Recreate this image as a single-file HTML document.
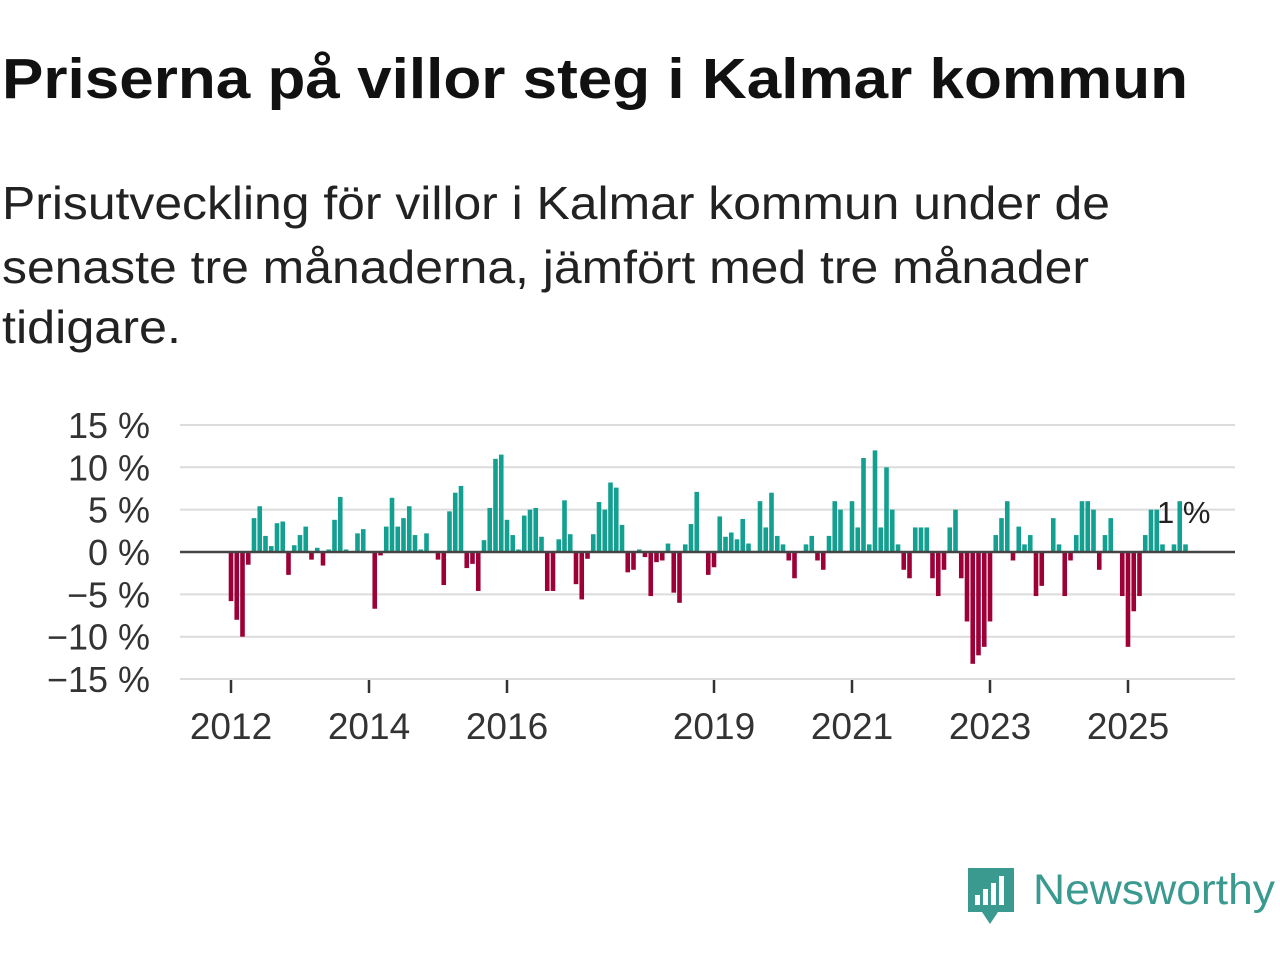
<!DOCTYPE html>
<html><head><meta charset="utf-8"><style>
html,body{margin:0;padding:0;background:#fff;}
svg{display:block;font-family:"Liberation Sans",sans-serif;}
</style></head><body>
<svg id="chart" width="1280" height="960" viewBox="0 0 1280 960">
<text x="2" y="98" font-size="57" font-weight="bold" fill="#111" textLength="1186" lengthAdjust="spacingAndGlyphs">Priserna på villor steg i Kalmar kommun</text>
<g font-size="46" fill="#222">
<text x="2" y="219" textLength="1108" lengthAdjust="spacingAndGlyphs">Prisutveckling för villor i Kalmar kommun under de</text>
<text x="2" y="283" textLength="1087" lengthAdjust="spacingAndGlyphs">senaste tre månaderna, jämfört med tre månader</text>
<text x="2" y="343" textLength="179" lengthAdjust="spacingAndGlyphs">tidigare.</text>
</g>
<g id="grid"></g>
<g id="bars"></g>
<g id="axes"></g>
<text x="1157" y="523" font-size="31" fill="#222">1 %</text>
<g>
<path d="M968 868 H1014 V912 H998 L990 924 L982 912 H968 Z" fill="#3a9a8f"/>
<rect x="975" y="895" width="5" height="10" fill="#fff"/>
<rect x="983" y="889" width="5" height="16" fill="#fff"/>
<rect x="991" y="883" width="5" height="22" fill="#fff"/>
<rect x="999" y="876" width="5" height="29" fill="#fff"/>
<text x="1033" y="904" font-size="43" fill="#3a9a8f" textLength="242" lengthAdjust="spacingAndGlyphs">Newsworthy</text>
</g>
</svg>
<script>
const startYear = 2012;
const values = [
-5.8,-8,-10,-1.5,4,5.4,1.9,0.7,3.4,3.6,-2.7,0.8,
2,3,-0.9,0.5,-1.6,0.3,3.8,6.5,0.3,0,2.2,2.7,
0,-6.7,-0.4,3,6.4,3,4,5.4,2,0.3,2.2,0,
-0.9,-3.9,4.8,7,7.8,-1.9,-1.4,-4.6,1.4,5.2,11,11.5,
3.8,2,0.3,4.3,5,5.2,1.8,-4.6,-4.6,1.5,6.1,2.1,
-3.8,-5.6,-0.8,2.1,5.9,5,8.2,7.6,3.2,-2.4,-2.1,0.3,
-0.6,-5.2,-1.2,-1,1,-4.8,-6,0.9,3.3,7.1,0,-2.7,
-1.8,4.2,1.8,2.3,1.5,3.9,1,0,6,2.9,7,1.9,
0.9,-1,-3.1,0,0.9,1.9,-1,-2.1,1.9,6,5,0,
6,2.9,11.1,0.9,12,2.9,10,5,0.9,-2.1,-3.1,2.9,
2.9,2.9,-3.1,-5.2,-2.1,2.9,5,-3.1,-8.2,-13.2,-12.2,-11.2,
-8.2,2,4,6,-1,3,0.9,2,-5.2,-4,0,4,
0.9,-5.2,-1,2,6,6,5,-2.1,2,4,0,-5.2,
-11.2,-7,-5.2,2,5,5,0.9,0,0.9,6,0.9
];
const yTicks = [15,10,5,0,-5,-10,-15];
const xTickYears = [2012,2014,2016,2019,2021,2023,2025];
const NS='http://www.w3.org/2000/svg';
const y = v => 552 - v*8.47;
const x = i => 231 + i*5.75;
const xYear = yr => x((yr-startYear)*12);
function mk(tag, attrs, parent){const e=document.createElementNS(NS,tag);for(const k in attrs)e.setAttribute(k,attrs[k]);parent.appendChild(e);return e;}
const grid=document.getElementById('grid'), bars=document.getElementById('bars'), axes=document.getElementById('axes');
yTicks.forEach(t=>{
  if(t!==0){const l=mk('line',{x1:180,x2:1235,y1:y(t),y2:y(t),stroke:'#dcdcdc','stroke-width':2},grid);
  
  }
  const tx=mk('text',{x:150,y:y(t)+13,'text-anchor':'end','font-size':36,fill:'#333'},axes);
  tx.textContent=(t<0?'\u2212'+(-t):t)+' %';
  
  
});
values.forEach((v,i)=>{
  const r=mk('rect',{x:x(i)-2.3,width:4.6,y:Math.min(y(v),y(0)),height:Math.abs(y(v)-y(0)),fill:v>=0?'#14a090':'#9c0036'},bars);
  
  
});
const z=mk('line',{x1:180,x2:1235,y1:y(0),y2:y(0),stroke:'#444','stroke-width':2.5},axes);


xTickYears.forEach(yr=>{
  const xx=xYear(yr);
  const tk=mk('line',{x1:xx,x2:xx,y1:680,y2:693,stroke:'#333','stroke-width':2.5},axes);
  
  
  const tx=mk('text',{x:xx,y:739,'text-anchor':'middle','font-size':37,fill:'#333'},axes);
  tx.textContent=yr;
  
  
});
</script>
</body></html>
